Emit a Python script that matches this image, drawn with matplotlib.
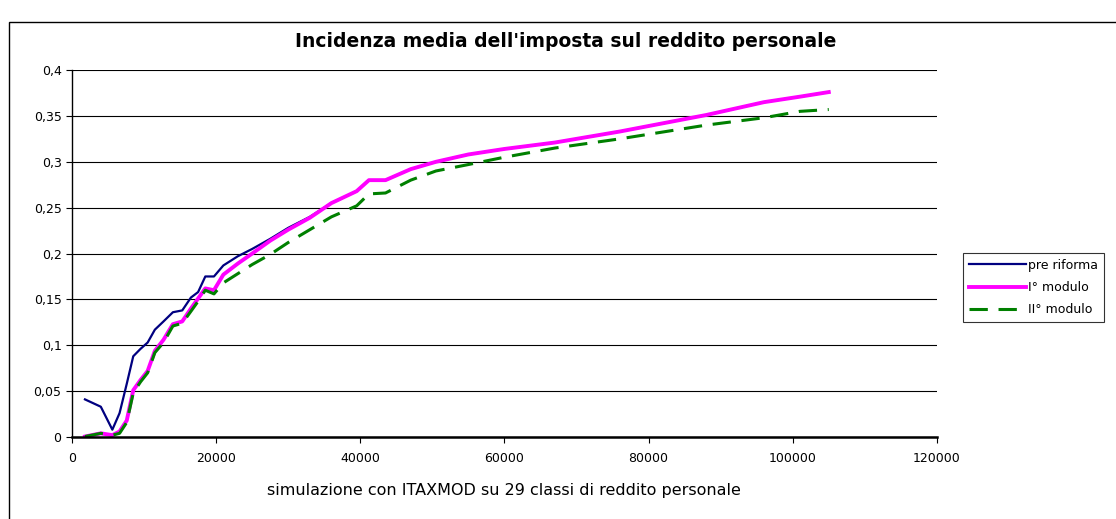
import matplotlib
matplotlib.use('Agg')
import matplotlib.pyplot as plt
from matplotlib.patches import Rectangle
from matplotlib.ticker import FuncFormatter, MultipleLocator

plt.rcParams['font.family'] = ['DejaVu Sans']

# reddito personale (classi simulate) e incidenza media
income = [1800, 4000, 5600, 6600, 7600, 8500, 9500, 10500, 11500, 12700,
          14000, 15300, 16500, 17500, 18500, 19700, 21000, 23000, 25000,
          27500, 30000, 33000, 36000, 39500, 41200, 43500, 47000, 50500,
          55000, 60000, 67000, 76000, 88000, 96000, 101000, 105000]

pre_riforma = [0.041, 0.033, 0.008, 0.026, 0.058, 0.088, 0.096, 0.103,
               0.117, 0.126, 0.136, 0.138, 0.152, 0.158, 0.175, 0.175,
               0.187, 0.197, 0.205, 0.216, 0.228, 0.240, 0.255, 0.268,
               0.280, 0.280, 0.292, 0.300, 0.308, 0.314, 0.321, 0.333,
               0.351, 0.365, 0.371, 0.376]

modulo_1 = [0.0005, 0.004, 0.002, 0.006, 0.018, 0.051, 0.062, 0.072,
            0.094, 0.106, 0.123, 0.126, 0.140, 0.151, 0.162, 0.160,
            0.177, 0.189, 0.200, 0.214, 0.226, 0.239, 0.255, 0.268,
            0.280, 0.280, 0.292, 0.300, 0.308, 0.314, 0.321, 0.333,
            0.351, 0.365, 0.371, 0.376]

modulo_2 = [0.0005, 0.004, 0.002, 0.004, 0.016, 0.048, 0.060, 0.070,
            0.092, 0.103, 0.121, 0.124, 0.137, 0.148, 0.160, 0.156,
            0.168, 0.178, 0.188, 0.199, 0.212, 0.226, 0.240, 0.252,
            0.265, 0.266, 0.280, 0.290, 0.297, 0.305, 0.315, 0.325,
            0.340, 0.348, 0.355, 0.357]

fig = plt.figure(figsize=(11.16, 5.19), dpi=100)
ax = fig.add_axes([0.0645, 0.158, 0.775, 0.707])

# outer chart frame (cut off on the right and bottom)
fig.patches.append(Rectangle((0.008, -0.5), 2.0, 0.5 + 0.958,
                             transform=fig.transFigure, fill=False,
                             edgecolor='black', linewidth=1.0))

ax.plot(income, pre_riforma, color='#000080', lw=1.6, label='pre riforma')
ax.plot(income, modulo_1, color='#ff00ff', lw=2.8, label='I° modulo')
ax.plot(income, modulo_2, color='#008000', lw=2.2, dashes=(6, 3.5),
        label='II° modulo')

ax.set_xlim(0, 120000)
ax.set_ylim(0, 0.4)
ax.xaxis.set_major_locator(MultipleLocator(20000))
ax.yaxis.set_major_locator(MultipleLocator(0.05))
ax.yaxis.set_major_formatter(FuncFormatter(
    lambda v, _: '0' if v == 0 else f'{v:.2f}'.rstrip('0').replace('.', ',')))
ax.grid(axis='y', color='black', lw=0.8)
ax.set_axisbelow(True)

for side in ('top', 'right'):
    ax.spines[side].set_visible(False)
ax.spines['left'].set_linewidth(1.0)
ax.spines['bottom'].set_linewidth(1.8)
ax.tick_params(direction='out', length=4, labelsize=9, colors='black')
ax.tick_params(axis='x', pad=7)

ax.set_xlabel('simulazione con ITAXMOD su 29 classi di reddito personale',
              fontsize=11.5, labelpad=13)
fig.text(0.507, 0.921, "Incidenza media dell'imposta sul reddito personale",
         ha='center', va='center', fontsize=13.5, fontweight='bold')

leg = ax.legend(loc='upper left', bbox_to_anchor=(0.863, 1 - 253 / 519),
                bbox_transform=fig.transFigure, borderaxespad=0,
                fontsize=9, frameon=True, fancybox=False,
                edgecolor='black', handlelength=4.6, handletextpad=0.15,
                borderpad=0.45, labelspacing=0.75)
leg.get_frame().set_linewidth(0.8)

fig.savefig('out.png', dpi=100)
